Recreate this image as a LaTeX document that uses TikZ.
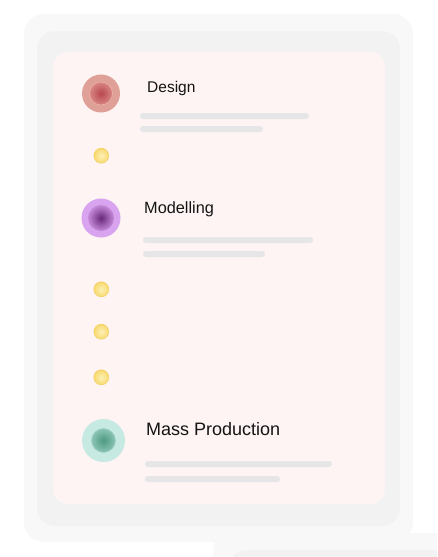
\documentclass[tikz,border=0pt]{standalone}
\usepackage{fontspec}
\setmainfont{Liberation Sans}
\definecolor{cardA}{HTML}{F8F8F8}
\definecolor{cardB}{HTML}{F2F2F2}
\definecolor{cardC}{HTML}{FDF4F3}
\definecolor{barc}{HTML}{E6E6E9}
\definecolor{yin}{HTML}{FDF1B8}
\definecolor{yout}{HTML}{F7D96E}
\definecolor{yring}{HTML}{F3D060}
\definecolor{dOut}{HTML}{DFA098}
\definecolor{dIn}{HTML}{B8474E}
\definecolor{dMid}{HTML}{D88684}
\definecolor{dRing}{HTML}{EAB0A8}
\definecolor{mOut}{HTML}{D8A3EF}
\definecolor{mIn}{HTML}{682879}
\definecolor{mMid}{HTML}{C68ADA}
\definecolor{pOut}{HTML}{C6E9E1}
\definecolor{pIn}{HTML}{4E9982}
\definecolor{pMid}{HTML}{8CC5B5}
\definecolor{pRing}{HTML}{A2D3C6}
\begin{document}
\begin{tikzpicture}[x=1pt,y=-1pt,
  lbl/.style={anchor=base west, inner sep=0pt, text=black!92},
  bar/.style={fill=barc, rounded corners=3pt},
  ydot/.style={circle, inner sep=0pt, minimum size=15pt, inner color=yin, outer color=yout, draw=yring, line width=0.5pt},
  bigdot/.style={circle, inner sep=0pt, minimum size=#1},
]
\useasboundingbox (0,0) rectangle (437,557);
\fill[white] (0,0) rectangle (437,557);
\begin{scope}
\clip (0,0) rectangle (437,557);
% peeking second card at bottom right
\fill[cardA, rounded corners=18pt] (213,533) rectangle (480,620);
\fill[cardB, rounded corners=16pt] (230,550) rectangle (480,620);
% main card stack
\fill[cardA, rounded corners=20pt] (24,14) rectangle (413,542);
\fill[cardB, rounded corners=18pt] (37,31) rectangle (400,526);
\fill[cardC, rounded corners=15pt] (53,52) rectangle (385,504);
\end{scope}
% Design
\node[bigdot=38pt, fill=dOut] (d) at (101,93.5) {};
\node[bigdot=23pt, inner color=dIn, outer color=dMid, draw=dRing, line width=0.6pt] (dc) at (d) {};
\node[lbl, font=\fontsize{15.5}{18}\selectfont] (dt) at (147,92.5) {Design};
\fill[bar] (140,113) rectangle (309,119);
\fill[bar] (140,126) rectangle (263,132);
% dot
\node[ydot] (y1) at (101.3,155.7) {};
% Modelling
\node[bigdot=39pt, fill=mOut] (m) at (101,218) {};
\node[bigdot=26pt, inner color=mIn, outer color=mMid] (mc) at (m) {};
\node[lbl, font=\fontsize{16.3}{19}\selectfont] (mt) at (144,213.5) {Modelling};
\fill[bar] (143,237) rectangle (313,243);
\fill[bar] (143,251) rectangle (265,257);
% dots
\node[ydot] (y2) at (101.3,289.3) {};
\node[ydot] (y3) at (101.3,331.7) {};
\node[ydot] (y4) at (101.3,377.3) {};
% Mass Production
\node[bigdot=43pt, fill=pOut] (p) at (103.5,440.5) {};
\node[bigdot=24pt, inner color=pIn, outer color=pMid, draw=pRing, line width=0.5pt] (pc) at (p) {};
\node[lbl, font=\fontsize{18}{21}\selectfont] (pt) at (146,435.5) {Mass Production};
\fill[bar] (145,461) rectangle (332,467);
\fill[bar] (145,476) rectangle (280,482);
\end{tikzpicture}
\end{document}
